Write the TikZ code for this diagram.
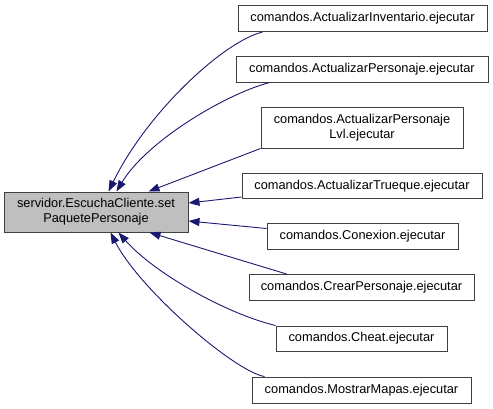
\documentclass[tikz,border=0pt]{standalone}
\usepackage{fontspec}
\setmainfont{Liberation Sans}
\usetikzlibrary{arrows.meta}
\definecolor{edgeblue}{RGB}{25,25,112}
\definecolor{mainfill}{RGB}{191,191,191}

\begin{document}
\begin{tikzpicture}[
        x=1pt, y=-1pt,
        fn/.style={rectangle, draw=black!75, line width=1pt, fill=white, inner sep=0pt, minimum height=26pt, font=\fontsize{12.8}{15}\selectfont, align=center},
        call/.style={draw=edgeblue, line width=0.9pt, -{Triangle[length=11pt,width=8pt]}},
    ]
        \useasboundingbox (0,0) rectangle (493,408);

        % Function whose callers are listed (left)
        \node[fn, fill=mainfill, minimum width=184pt, minimum height=40pt] (SETPAQ) at (96,212) {servidor.EscuchaCliente.set\\PaquetePersonaje};

        % Callers (right column)
        \node[fn, minimum width=249pt] (INV) at (362.5,18.5) {comandos.ActualizarInventario.ejecutar};
        \node[fn, minimum width=252pt] (PERS) at (362,69) {comandos.ActualizarPersonaje.ejecutar};
        \node[fn, minimum width=202pt, minimum height=41pt] (LVL) at (362,127.5) {comandos.ActualizarPersonaje\\Lvl.ejecutar};
        \node[fn, minimum width=240pt, minimum height=25pt] (TRUEQ) at (362,186) {comandos.ActualizarTrueque.ejecutar};
        \node[fn, minimum width=191pt] (CONEX) at (362.5,236.5) {comandos.Conexion.ejecutar};
        \node[fn, minimum width=225pt] (CREAR) at (361.5,287.5) {comandos.CrearPersonaje.ejecutar};
        \node[fn, minimum width=171pt, minimum height=25pt] (CHEAT) at (361.5,338.5) {comandos.Cheat.ejecutar};
        \node[fn, minimum width=219pt] (MAPAS) at (361.5,390) {comandos.MostrarMapas.ejecutar};

        % Call edges
        \draw[call] ([xshift=25pt]INV.south west) .. controls +(-40,10) and +(38,-78) .. ([xshift=105pt]SETPAQ.north west);
        \draw[call] ([xshift=34pt]PERS.south west) .. controls +(-45,12) and +(30,-50) .. ([xshift=113pt]SETPAQ.north west);
        \draw[call] (LVL.south west) -- ([xshift=145pt]SETPAQ.north west);
        \draw[call] ([yshift=2pt]TRUEQ.south west) -- ([yshift=9pt]SETPAQ.east);
        \draw[call] ([yshift=8pt]CONEX.west) -- ([yshift=-9pt]SETPAQ.east);
        \draw[call] ([xshift=38pt]CREAR.north west) -- ([xshift=146pt]SETPAQ.south west);
        \draw[call] (CHEAT.north west) .. controls +(-50,-12) and +(35,40) .. ([xshift=115pt]SETPAQ.south west);
        \draw[call] ([xshift=13pt]MAPAS.north west) .. controls +(-30,-5) and +(29,57) .. ([xshift=107pt]SETPAQ.south west);
    \end{tikzpicture}
\end{document}
